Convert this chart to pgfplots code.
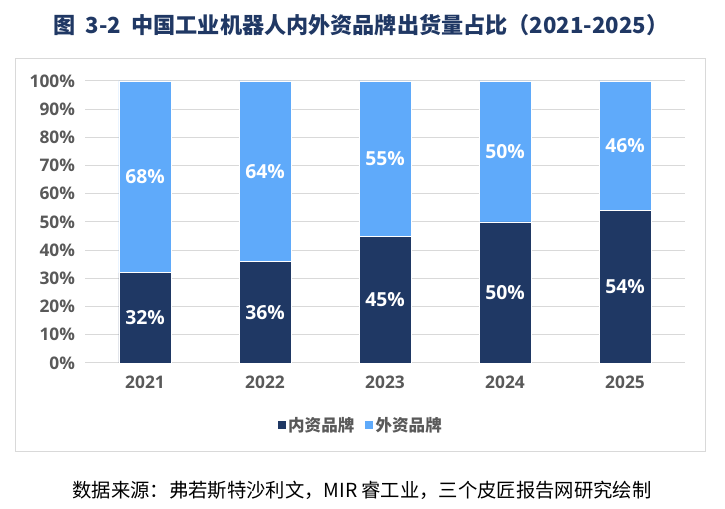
\documentclass[border=0pt]{standalone}
\usepackage{fontspec}
\usepackage{pgfplots}
\pgfplotsset{compat=1.18}
\setmainfont{Open Sans}
\newfontfamily\cjk{Noto Sans CJK SC}
\definecolor{navy}{RGB}{31,56,100}
\definecolor{lblue}{RGB}{95,170,250}
\definecolor{titlec}{RGB}{32,56,100}
\definecolor{tgray}{RGB}{89,89,89}
\definecolor{gridc}{RGB}{217,217,217}
\pgfplotsset{
  /pgf/number format/assume math mode=true,
  base/.style={
    at={(63.75pt,109.5pt)}, anchor=south west, scale only axis,
    width=450pt, height=211.5pt,
    xmin=-0.5, xmax=4.5, ymin=0, ymax=100,
  }
}
\begin{document}
\begin{tikzpicture}
\path[use as bounding box] (0,0) rectangle (543.75pt,381.75pt);
\begin{scope}[x=0.75pt,y=0.75pt]
\draw[gridc, line width=0.75pt] (15,57) rectangle (705,450);
\node[text=titlec, font=\cjk\bfseries\fontsize{16.6pt}{19pt}\selectfont] at (361,484) {图\ \ 3-2\ \ 中国工业机器人内外资品牌出货量占比（2021-2025）};
\node[text=black, font=\cjk\fontsize{14.5pt}{17pt}\selectfont] at (362,19) {数据来源：弗若斯特沙利文，MIR 睿工业，三个皮匠报告网研究绘制};
\end{scope}
\begin{axis}[base,
  ybar stacked, bar width=39pt,
  axis line style={draw=none},
  ymajorgrids, grid style={gridc, line width=0.75pt},
  ytick={0,10,...,100},
  yticklabel={\pgfmathprintnumber{\tick}\%},
  xtick={0,1,2,3,4},
  xticklabels={2021,2022,2023,2024,2025},
  major tick length=0pt,
  tick style={draw=none},
  ticklabel style={font=\bfseries\fontsize{13pt}{15pt}\selectfont, text=tgray},
  yticklabel style={xshift=-4pt},
  xticklabel style={yshift=-6pt},
  legend style={at={(0.46,-0.22)}, anchor=center, draw=none, legend columns=2,
    font=\cjk\bfseries\fontsize{12.4pt}{14pt}\selectfont, text=tgray,
    /tikz/every even column/.append style={column sep=6pt}},
  legend image code/.code={\path[#1,draw=none] (0pt,-3pt) rectangle (6pt,3pt);},
]
\addplot[fill=navy, draw=white, line width=0.5pt] coordinates {(0,32) (1,36) (2,45) (3,50) (4,54)};
\addplot[fill=lblue, draw=white, line width=0.5pt] coordinates {(0,68) (1,64) (2,55) (3,50) (4,46)};
\legend{内资品牌,外资品牌}
\end{axis}
\begin{axis}[base, hide axis, clip=false]
\addplot[only marks, mark=none, point meta=explicit,
  nodes near coords={\pgfmathprintnumber{\pgfplotspointmeta}\%},
  nodes near coords style={anchor=center, text=white, font=\bfseries\fontsize{14.5pt}{16pt}\selectfont}]
  table[meta=m, row sep=\\] {
  x y m \\
  0 16 32 \\ 1 18 36 \\ 2 22.5 45 \\ 3 25 50 \\ 4 27 54 \\
  0 66 68 \\ 1 68 64 \\ 2 72.5 55 \\ 3 75 50 \\ 4 77 46 \\
};
\end{axis}
\end{tikzpicture}
\end{document}
